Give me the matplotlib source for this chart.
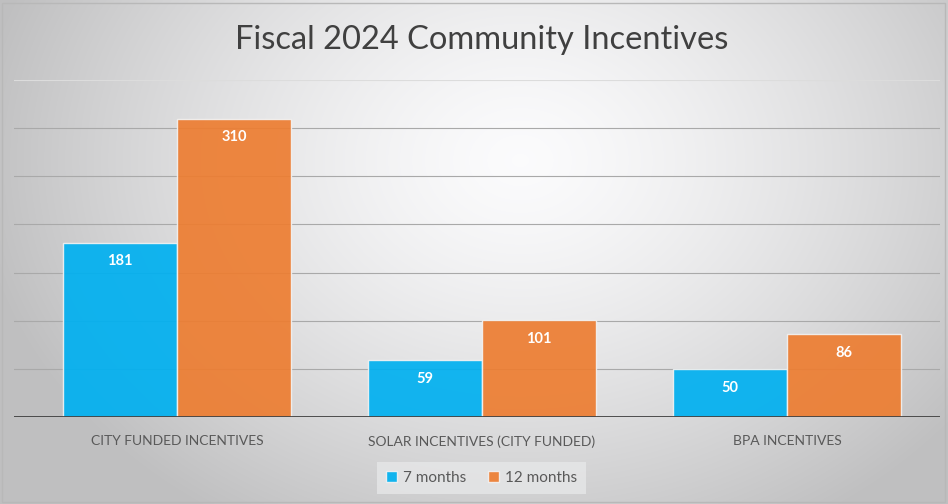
import numpy as np
import matplotlib.pyplot as plt
from matplotlib.patches import Rectangle

# incentive counts per program
categories = ['CITY FUNDED INCENTIVES', 'SOLAR INCENTIVES (CITY FUNDED)', 'BPA INCENTIVES']
seven_months = [181, 59, 50]
twelve_months = [310, 101, 86]
series_names = ['7 months', '12 months']

blue = '#00B0F0'
orange = '#ED7D31'

plt.rcParams['font.family'] = ['Lato', 'DejaVu Sans']

fig = plt.figure(figsize=(9.48, 5.04), dpi=100)

# radial grey background
bg = fig.add_axes([0, 0, 1, 1], zorder=-10)
yy, xx = np.mgrid[0:504, 0:948]
r = np.sqrt(((xx - 520) / 540.0) ** 2 + ((yy - 160) / 420.0) ** 2)
shade = np.clip(0.985 - 0.23 * r ** 1.4, 0.75, 1.0)
bg.imshow(np.dstack([shade, shade, shade * 1.005]).clip(0, 1), aspect='auto', extent=[0, 1, 0, 1])
bg.set_xlim(0, 1)
bg.set_ylim(0, 1)
bg.axis('off')
bg.add_patch(Rectangle((0.002, 0.004), 0.995, 0.99, fill=False, edgecolor='#b8b8b8', lw=1))

ax = fig.add_axes([14 / 948, 87 / 504, 926 / 948, 337 / 504])
ax.patch.set_alpha(0)
for s in ax.spines.values():
    s.set_visible(False)

x = np.arange(len(categories))
w = 0.374
ax.set_xlim(-0.534, 2.502)
ax.set_ylim(0, 350)

# gridlines
for g in range(50, 351, 50):
    ax.axhline(g, color='#dcdcdc' if g == 350 else '#a9a9a9', lw=0.8, zorder=1)

b1 = ax.bar(x - w / 2, seven_months, w, color=blue, alpha=0.92, edgecolor='#f2f2f2', lw=1, zorder=2, label=series_names[0])
b2 = ax.bar(x + w / 2, twelve_months, w, color=orange, alpha=0.92, edgecolor='#f2f2f2', lw=1, zorder=2, label=series_names[1])

for bars, vals in [(b1, seven_months), (b2, twelve_months)]:
    for b, v in zip(bars, vals):
        ax.annotate(str(v), (b.get_x() + b.get_width() / 2, v), xytext=(0, -13.5), textcoords='offset points',
                    ha='center', va='center', color='white', fontsize=10.5, fontweight='bold', zorder=3)

ax.axhline(0, color='#404040', lw=2, zorder=4)

ax.set_yticks([])
ax.set_xticks(x)
ax.set_xticklabels(categories, fontsize=10, color='#595959')
ax.tick_params(axis='x', length=0, pad=13)

leg = ax.legend(loc='upper center', bbox_to_anchor=(0.505, -0.11), ncol=2, frameon=True, fontsize=11,
                handlelength=0.7, handleheight=0.7, handletextpad=0.4, columnspacing=1.4,
                borderpad=0.6, fancybox=False)
leg.get_frame().set_facecolor('#e6e7e8')
leg.get_frame().set_edgecolor('none')
for t in leg.get_texts():
    t.set_color('#595959')

fig.text(0.508, 0.92, 'Fiscal 2024 Community Incentives', ha='center', va='center', fontsize=23.5, color='#404040')

fig.savefig('out.png', dpi=100)
